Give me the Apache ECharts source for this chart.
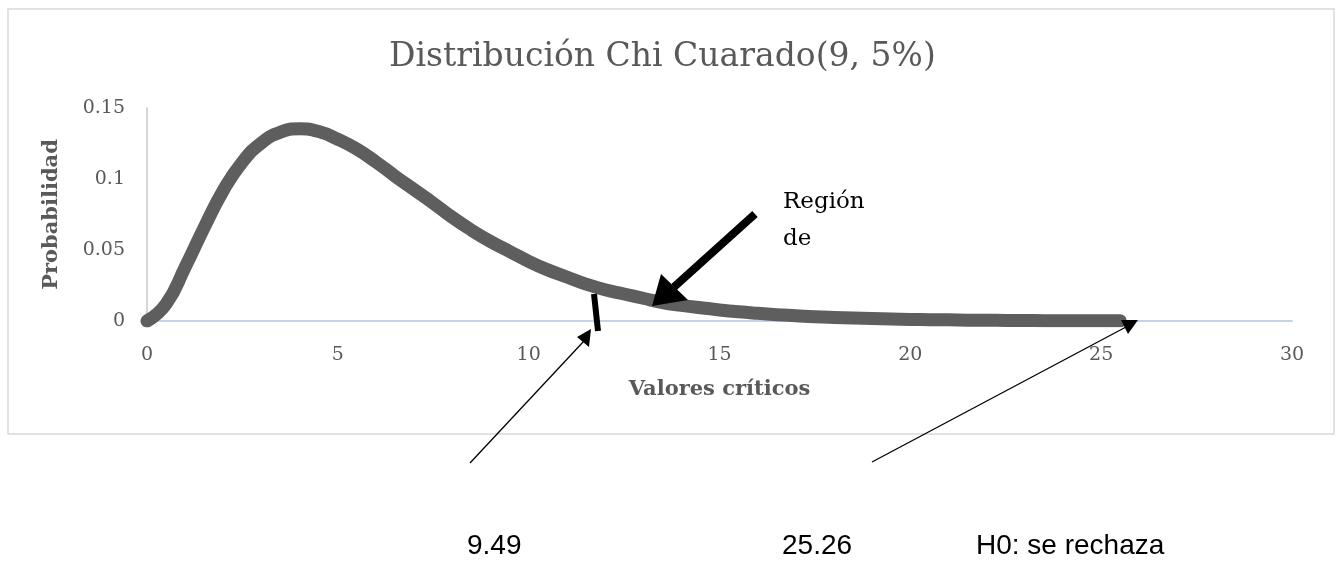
<!DOCTYPE html>
<html>
<head>
<meta charset="utf-8">
<script src="https://cdn.jsdelivr.net/npm/echarts@6/dist/echarts.min.js"></script>
<style>
  html, body { margin: 0; padding: 0; background: #fff; }
  #chart { width: 1340px; height: 571px; }
</style>
</head>
<body>
<div id="chart"></div>
<script>
// valores (paso 0.5)
const xValues = [0, 0.5, 1, 1.5, 2, 2.5, 3, 3.5, 4, 4.5, 5, 5.5, 6, 6.5, 7, 7.5, 8, 8.5, 9, 9.5,
  10, 10.5, 11, 11.5, 12, 12.5, 13, 13.5, 14, 14.5, 15, 15.5, 16, 16.5, 17, 17.5, 18, 18.5, 19, 19.5,
  20, 20.5, 21, 21.5, 22, 22.5, 23, 23.5, 24, 24.5, 25, 25.5]
const probValues = [0, 0.012, 0.038, 0.066, 0.092, 0.112, 0.1255, 0.133, 0.1353, 0.1334, 0.128, 0.121,
  0.112, 0.102, 0.0925, 0.083, 0.073, 0.064, 0.056, 0.049,
  0.042, 0.036, 0.031, 0.026, 0.022, 0.019, 0.016, 0.013, 0.011, 0.0093, 0.0078, 0.0065, 0.0054, 0.0044,
  0.0037, 0.003, 0.0025, 0.0021, 0.0017, 0.0014,
  0.0011, 0.0009, 0.0008, 0.0006, 0.0005, 0.0004, 0.0003, 0.00025, 0.0002, 0.00018, 0.00015, 0.0001]
const xTicks = [0, 5, 10, 15, 20, 25, 30]
const yTicks = [0, 0.05, 0.1, 0.15]

const chart = echarts.init(document.getElementById('chart'))

const serif = "'DejaVu Serif', serif"
const sans = "'Liberation Sans', Arial, sans-serif"
const gray = '#595959'

const option = {
  animation: false,
  title: {
    text: 'Distribución Chi Cuarado(9, 5%)',
    left: 384,
    top: 36,
    textStyle: { fontFamily: serif, fontSize: 33, fontWeight: 'normal', color: gray }
  },
  grid: { left: 147, right: 48, top: 108, bottom: 250 },
  xAxis: {
    type: 'value',
    min: xTicks[0],
    max: xTicks[xTicks.length - 1],
    interval: 5,
    name: 'Valores críticos',
    nameLocation: 'middle',
    nameGap: 58,
    nameTextStyle: { fontFamily: serif, fontSize: 21, fontWeight: 'bold', color: gray },
    axisLine: { lineStyle: { color: '#c5d3e6', width: 2 } },
    axisTick: { show: false },
    splitLine: { show: false },
    axisLabel: { fontFamily: serif, fontSize: 19, color: gray, margin: 25 }
  },
  yAxis: {
    type: 'value',
    min: yTicks[0],
    max: yTicks[yTicks.length - 1],
    interval: 0.05,
    name: 'Probabilidad',
    nameLocation: 'middle',
    nameGap: 85,
    nameTextStyle: { fontFamily: serif, fontSize: 21, fontWeight: 'bold', color: gray },
    axisLine: { show: true, lineStyle: { color: '#c8c8c8', width: 1.5 } },
    axisTick: { show: false },
    splitLine: { show: false },
    axisLabel: { fontFamily: serif, fontSize: 19, color: gray, margin: 22 }
  },
  series: [{
    type: 'line',
    data: xValues.map((x, i) => [x, probValues[i]]),
    smooth: true,
    symbol: 'none',
    lineStyle: { color: '#5e5e5e', width: 13, cap: 'round', join: 'round' },
    z: 3
  }],
  graphic: [
    // marco del gráfico
    { type: 'rect', shape: { x: 8, y: 9, width: 1326, height: 425 },
      style: { fill: 'none', stroke: '#d9d9d9', lineWidth: 1.5 }, z: -1 },
    // flecha gruesa "Región de"
    { type: 'line', shape: { x1: 755, y1: 214, x2: 674, y2: 287 },
      style: { stroke: '#000', lineWidth: 8 }, z: 10 },
    { type: 'polygon', shape: { points: [[652, 306], [661, 274], [688, 300]] },
      style: { fill: '#000' }, z: 10 },
    { type: 'text', left: 783, top: 184,
      style: { text: 'Región\nde', fontFamily: serif, fontSize: 23, lineHeight: 37, fill: '#000' }, z: 10 },
    // marca del valor crítico
    { type: 'line', shape: { x1: 594, y1: 294, x2: 598, y2: 331 },
      style: { stroke: '#000', lineWidth: 6 }, z: 10 },
    // flecha fina 9.49
    { type: 'line', shape: { x1: 470, y1: 463, x2: 584, y2: 341 },
      style: { stroke: '#000', lineWidth: 1.3 }, z: 10 },
    { type: 'polygon', shape: { points: [[591, 329], [577, 337], [589, 347]] },
      style: { fill: '#000' }, z: 10 },
    // flecha fina 25.26
    { type: 'line', shape: { x1: 872, y1: 462, x2: 1126, y2: 327 },
      style: { stroke: '#000', lineWidth: 1.3 }, z: 10 },
    { type: 'polygon', shape: { points: [[1138, 320], [1121, 320], [1128, 334]] },
      style: { fill: '#000' }, z: 10 },
    // textos inferiores
    { type: 'text', left: 467, top: 532,
      style: { text: '9.49', fontFamily: sans, fontSize: 28, fill: '#000' } },
    { type: 'text', left: 782, top: 532,
      style: { text: '25.26', fontFamily: sans, fontSize: 28, fill: '#000' } },
    { type: 'text', left: 976, top: 532,
      style: { text: 'H0: se rechaza', fontFamily: sans, fontSize: 28, fill: '#000' } }
  ]
}

chart.setOption(option)
</script>
</body>
</html>
